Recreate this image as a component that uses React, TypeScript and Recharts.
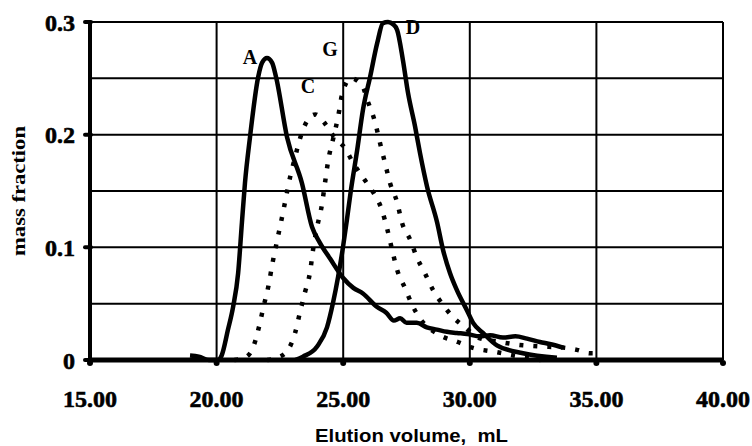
import React from 'react';
import { LineChart, Line, XAxis, YAxis, CartesianGrid, ReferenceDot, Label } from 'recharts';

// Elution volume (mL) and mass fraction for each sample
const volA = [18.95, 19.3, 19.7, 20.05, 20.2, 20.45, 20.65, 20.85, 21.0, 21.12, 21.32, 21.64, 21.8, 21.99, 22.19, 22.35, 22.78, 23.37, 23.77, 24.08, 24.48, 24.99, 25.4, 25.78, 26.34, 26.7, 27.0, 27.25, 27.5, 27.91, 28.3, 28.7, 29.1, 29.49, 29.9, 30.4, 30.8, 31.31, 31.8, 32.26, 32.77, 33.2, 33.68];
const massA = [0.004, 0.003, 0.0, 0.0, 0.004, 0.027, 0.047, 0.077, 0.122, 0.157, 0.198, 0.251, 0.264, 0.268, 0.264, 0.251, 0.198, 0.157, 0.118, 0.104, 0.090, 0.073, 0.064, 0.059, 0.047, 0.042, 0.035, 0.037, 0.033, 0.033, 0.029, 0.027, 0.025, 0.024, 0.023, 0.021, 0.022, 0.020, 0.021, 0.019, 0.016, 0.014, 0.011];

const volC = [20.7, 21.1, 21.4, 21.67, 21.85, 22.05, 22.2, 22.38, 22.55, 22.72, 22.9, 23.1, 23.3, 23.6, 23.9, 24.24, 24.64, 25.07, 25.39, 25.78, 26.18, 26.53, 26.73, 26.93, 27.13, 27.44, 27.72, 28.03, 28.82, 29.53, 30.09, 31.07, 31.98, 32.8];
const massC = [0, 0.002, 0.009, 0.029, 0.047, 0.066, 0.085, 0.105, 0.123, 0.142, 0.162, 0.180, 0.197, 0.213, 0.218, 0.211, 0.198, 0.188, 0.175, 0.162, 0.149, 0.133, 0.117, 0.098, 0.080, 0.064, 0.049, 0.037, 0.022, 0.016, 0.011, 0.007, 0.003, 0];

const volG = [22.0, 22.4, 22.82, 23.1, 23.29, 23.49, 23.69, 23.81, 23.97, 24.16, 24.28, 24.4, 24.62, 24.8, 24.95, 25.3, 25.74, 25.98, 26.26, 26.45, 26.65, 26.85, 27.13, 27.32, 27.64, 27.91, 28.23, 28.55, 28.94, 29.34, 29.81, 30.32, 31.19, 32.1, 32.77, 33.68, 34.23, 34.75, 35.0];
const massG = [0, 0.002, 0.009, 0.024, 0.042, 0.060, 0.078, 0.098, 0.118, 0.138, 0.157, 0.176, 0.198, 0.216, 0.235, 0.250, 0.244, 0.229, 0.211, 0.193, 0.175, 0.157, 0.140, 0.122, 0.107, 0.091, 0.077, 0.062, 0.049, 0.038, 0.029, 0.020, 0.016, 0.013, 0.012, 0.011, 0.009, 0.006, 0.006];

const volD = [23.1, 23.41, 23.97, 24.36, 24.6, 24.8, 24.99, 25.15, 25.3, 25.55, 25.78, 26.06, 26.34, 26.57, 26.77, 26.97, 27.13, 27.36, 27.56, 27.84, 28.03, 28.31, 28.71, 28.94, 29.22, 29.49, 29.89, 30.13, 30.52, 31.07, 32.1, 33.44];
const massD = [0, 0.003, 0.012, 0.029, 0.051, 0.074, 0.100, 0.125, 0.150, 0.186, 0.222, 0.251, 0.281, 0.299, 0.300, 0.298, 0.293, 0.266, 0.237, 0.207, 0.184, 0.154, 0.122, 0.098, 0.077, 0.062, 0.044, 0.033, 0.024, 0.013, 0.006, 0.002];

const xTicks = [15, 20, 25, 30, 35, 40];
const yTicks = [0, 0.05, 0.1, 0.15, 0.2, 0.25, 0.3];
const yLabelTicks = [0, 0.1, 0.2, 0.3];

const curveNames = ['A', 'C', 'G', 'D'];
const curveLabelVol = [21.32, 23.61, 24.48, 27.76];
const curveLabelMass = [0.269, 0.243, 0.276, 0.296];

const toPts = (xs: number[], ys: number[]) => xs.map((x, i) => ({ x, y: ys[i] }));
const dataA = toPts(volA, massA);
const dataC = toPts(volC, massC);
const dataG = toPts(volG, massG);
const dataD = toPts(volD, massD);

const SERIF = '"Liberation Serif", "Times New Roman", serif';
const SANS = '"Liberation Sans", Arial, sans-serif';

const YTick = (props: any) => {
  const { x, y, payload } = props;
  const v = payload.value;
  const labeled = yLabelTicks.some((t) => Math.abs(t - v) < 1e-9);
  if (!labeled) return <g />;
  return (
    <g>
      <line x1={x - 5} x2={x + 1} y1={y} y2={y} stroke="#000" strokeWidth={4} strokeLinecap="round" />
      <text x={x - 15} y={y + 8.5} textAnchor="end" fontFamily={SERIF} fontSize={24} fontWeight="bold" fill="#000" stroke="#000" strokeWidth={0.6}>
        {v === 0 ? '0' : v.toFixed(1)}
      </text>
    </g>
  );
};

const XTick = (props: any) => {
  const { x, y, payload } = props;
  return (
    <g>
      <circle cx={x} cy={y + 3} r={3} fill="#000" />
      <text x={x} y={y + 47} textAnchor="middle" fontFamily={SERIF} fontSize={24} fontWeight="bold" fill="#000" stroke="#000" strokeWidth={0.6}>
        {Number(payload.value).toFixed(2)}
      </text>
    </g>
  );
};

const solid = { stroke: '#000', strokeWidth: 4.5, dot: false as const, isAnimationActive: false, type: 'monotone' as const };
const dotted = { ...solid, strokeWidth: 4.5, strokeDasharray: '4 10' };

export default function App() {
  return (
    <div style={{ position: 'absolute', left: 0, top: 0, background: '#fff' }}>
      <LineChart width={752} height={446} margin={{ top: 22, right: 29, left: 0, bottom: 0 }}>
        <CartesianGrid stroke="#000" strokeWidth={2} strokeDasharray="" />
        <XAxis
          type="number"
          dataKey="x"
          domain={[15, 40]}
          ticks={xTicks}
          height={86}
          tickSize={0}
          tickMargin={0}
          tickLine={false}
          tick={<XTick />}
          axisLine={{ stroke: '#000', strokeWidth: 5 }}
          allowDuplicatedCategory={false}
        >
          <Label
            content={(p: any) => {
              const vb = p.viewBox;
              return (
                <text
                  x={vb.x + vb.width / 2 + 5}
                  y={vb.y + 82}
                  textAnchor="middle"
                  fontFamily={SANS}
                  fontWeight="bold"
                  fontSize={19}
                  textLength={193}
                  lengthAdjust="spacingAndGlyphs"
                  style={{ whiteSpace: 'pre' }}
                  fill="#000"
                >
                  {'Elution volume,  mL'}
                </text>
              );
            }}
          />
        </XAxis>
        <YAxis
          type="number"
          domain={[0, 0.3]}
          ticks={yTicks}
          width={90}
          tickSize={0}
          tickMargin={0}
          tickLine={false}
          tick={<YTick />}
          axisLine={{ stroke: '#000', strokeWidth: 4 }}
        >
          <Label
            content={(p: any) => {
              const vb = p.viewBox;
              const cx = 18;
              const cy = vb.y + vb.height / 2;
              return (
                <text
                  x={cx}
                  y={cy}
                  transform={`rotate(-90, ${cx}, ${cy})`}
                  textAnchor="middle"
                  dominantBaseline="central"
                  fontFamily={SERIF}
                  fontWeight="bold"
                  fontSize={19}
                  textLength={130}
                  lengthAdjust="spacingAndGlyphs"
                  fill="#000"
                >
                  mass fraction
                </text>
              );
            }}
          />
        </YAxis>
        <Line data={dataA} dataKey="y" {...solid} />
        <Line data={dataC} dataKey="y" {...dotted} />
        <Line data={dataG} dataKey="y" {...dotted} />
        <Line data={dataD} dataKey="y" {...solid} />
        {curveNames.map((name, i) => (
          <ReferenceDot
            key={name}
            x={curveLabelVol[i]}
            y={curveLabelMass[i]}
            r={0}
            ifOverflow="visible"
            shape={(p: any) => (
              <text
                x={p.cx}
                y={p.cy}
                textAnchor="middle"
                dominantBaseline="central"
                fontFamily={SERIF}
                fontWeight="bold"
                fontSize={20}
                fill="#000"
              >
                {name}
              </text>
            )}
          />
        ))}
      </LineChart>
    </div>
  );
}
